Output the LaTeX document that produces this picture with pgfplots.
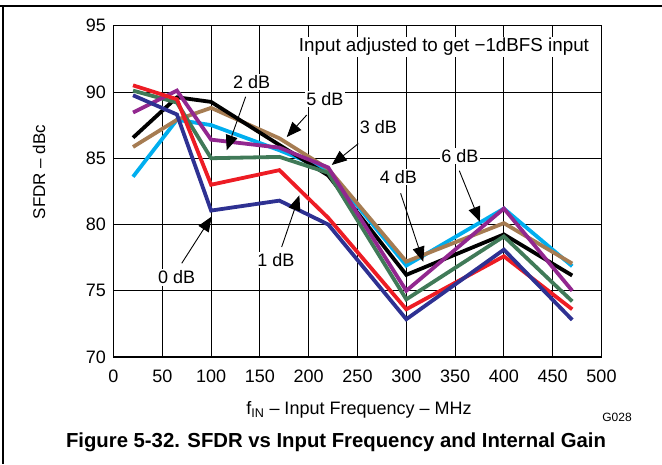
\documentclass[border=0pt]{standalone}
\usepackage{pgfplots}
\pgfplotsset{compat=1.18}
\usetikzlibrary{arrows.meta}
\usepackage{fontspec}
\setmainfont{Liberation Sans}

\definecolor{cNavy}{RGB}{46,49,146}
\definecolor{cRed}{RGB}{237,28,36}
\definecolor{cGreen}{RGB}{64,122,88}
\definecolor{cPurple}{RGB}{146,39,143}
\definecolor{cBrown}{RGB}{166,124,82}
\definecolor{cCyan}{RGB}{0,174,239}

\tikzset{
  lbl/.style={fill=white, inner sep=1.5pt, font=\fontsize{18}{21}\selectfont},
  ptr/.style={line width=0.9pt, -{Triangle[length=15pt,width=12pt]}},
}

\begin{document}
\begin{tikzpicture}
\useasboundingbox (0pt,0pt) rectangle (662pt,464pt);
\draw[line width=1.3pt] (0pt,458pt) -- (662pt,458pt);
\draw[line width=1.3pt] (3pt,458pt) -- (3pt,0pt);

\begin{axis}[
  at={(113.5pt,107pt)}, anchor=south west,
  scale only axis, width=488pt, height=331.3pt,
  xmin=0, xmax=500, ymin=70, ymax=95,
  xtick={0,50,...,500}, ytick={70,75,...,95},
  grid=major, major grid style={black, line width=0.9pt},
  axis line style={line width=1.6pt},
  tick style={draw=none},
  ticklabel style={font=\fontsize{18}{21}\selectfont},
  xticklabel style={yshift=-9pt},
  yticklabel style={xshift=-4pt},
  /pgf/number format/assume math mode=true,
  every axis plot/.append style={line width=3.8pt, line join=miter, mark=none},
  clip=false,
]
% cyan
\addplot[cCyan] coordinates {(20,83.6) (65,87.9) (100,87.5) (170,85.6) (220,84.1) (300,76.9) (400,81.2) (470,76.85)};
% brown
\addplot[cBrown] coordinates {(20,85.85) (65,87.9) (100,88.8) (170,86.5) (220,84.2) (300,77.2) (400,80.1) (470,77.05)};
% black
\addplot[black] coordinates {(20,86.55) (65,89.6) (100,89.25) (170,86.0) (220,83.7) (300,76.2) (400,79.25) (470,76.15)};
% green
\addplot[cGreen] coordinates {(20,90.1) (65,89.2) (100,85.0) (170,85.1) (220,83.9) (300,74.35) (400,79.1) (470,74.2)};
% purple
\addplot[cPurple] coordinates {(20,88.45) (65,90.1) (100,86.4) (170,85.8) (220,84.3) (300,75.0) (400,81.2) (470,75.0)};
% red
\addplot[cRed] coordinates {(20,90.5) (65,89.45) (100,83.0) (170,84.1) (220,80.5) (300,73.6) (400,77.6) (470,73.6)};
% navy
\addplot[cNavy] coordinates {(20,89.75) (65,88.3) (100,81.05) (170,81.8) (220,80.0) (300,72.85) (400,78.1) (470,72.8)};

\node[lbl, font=\fontsize{18.8}{22}\selectfont] at (axis cs:338.6,93.4) {Input adjusted to get −1dBFS input};

\draw[ptr] (axis cs:69.9,77.07) -- (axis cs:100.6,80.6);
\node[lbl] at (axis cs:64.8,76.0) {0 dB};
\draw[ptr] (axis cs:172.3,78.3) -- (axis cs:190.4,82.2);
\node[lbl] at (axis cs:166.5,77.3) {1 dB};
\draw[ptr] (axis cs:135.4,89.64) -- (axis cs:116.0,85.6);
\node[lbl] at (axis cs:141.6,90.77) {2 dB};
\draw[ptr] (axis cs:198,88.26) -- (axis cs:177.5,86.6);
\node[lbl] at (axis cs:216.7,89.46) {5 dB};
\draw[ptr] (axis cs:250.8,86.1) -- (axis cs:223.6,84.49);
\node[lbl] at (axis cs:271.3,87.38) {3 dB};
\draw[ptr] (axis cs:294.2,82.35) -- (axis cs:317.4,77.19);
\node[lbl] at (axis cs:291.8,83.6) {4 dB};
\draw[ptr] (axis cs:354.3,84.06) -- (axis cs:375.5,80.2);
\node[lbl] at (axis cs:355,85.17) {6 dB};
\end{axis}

\node[font=\fontsize{18}{21}\selectfont] at (359pt,54pt) {f\textsubscript{IN} – Input Frequency – MHz};
\node[font=\fontsize{17}{20}\selectfont, rotate=90] at (39pt,292pt) {SFDR – dBc};
\node[font=\fontsize{12}{14}\selectfont] at (617pt,47pt) {G028};
\node[font=\bfseries\fontsize{20.3}{24}\selectfont] at (336pt,22pt) {Figure 5-32. SFDR vs Input Frequency and Internal Gain};
\end{tikzpicture}
\end{document}
